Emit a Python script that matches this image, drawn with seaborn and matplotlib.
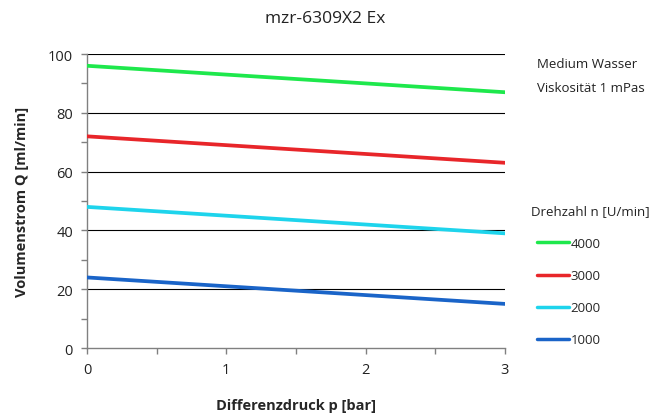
import matplotlib
matplotlib.use("Agg")
import matplotlib.pyplot as plt
import seaborn as sns
import pandas as pd
from matplotlib.ticker import MultipleLocator

sns.set_style("white")
plt.rcParams['font.family'] = ['Open Sans', 'DejaVu Sans']

pressure = [0, 3]
speeds = ["4000", "3000", "2000", "1000"]
flow_4000 = [96, 87]
flow_3000 = [72, 63]
flow_2000 = [48, 39]
flow_1000 = [24, 15]
colors = ["#1EE84C", "#E8262A", "#1ED4EC", "#1A64C8"]

series = {"4000": flow_4000, "3000": flow_3000, "2000": flow_2000, "1000": flow_1000}
rows = []
for s in speeds:
    for p, q in zip(pressure, series[s]):
        rows.append({"p": p, "Q": q, "n": s})
df = pd.DataFrame(rows)

W, H = 652, 414
fig = plt.figure(figsize=(6.52, 4.14), dpi=100)
ax = fig.add_axes([0.1334, 0.157, 0.7745 - 0.1334, 0.8671 - 0.157])

sns.lineplot(data=df, x="p", y="Q", hue="n", hue_order=speeds,
             palette=colors, linewidth=2.7, ax=ax, legend=True, zorder=3)

ax.set_xlim(0, 3)
ax.set_ylim(0, 100)
ax.xaxis.set_major_locator(MultipleLocator(1))
ax.xaxis.set_minor_locator(MultipleLocator(0.5))
ax.yaxis.set_major_locator(MultipleLocator(20))
ax.yaxis.set_minor_locator(MultipleLocator(10))
ax.grid(False)
for yv in range(20, 101, 20):
    ax.axhline(yv, color="black", linewidth=0.8, zorder=1)
for side in ["top", "right"]:
    ax.spines[side].set_visible(False)
for side in ["left", "bottom"]:
    ax.spines[side].set_color("#808080")
    ax.spines[side].set_linewidth(1.0)
ax.tick_params(which="both", direction="out", color="#808080", width=1.0,
               left=True, bottom=True, labelsize=10.5, labelcolor="#222222")
ax.tick_params(which="major", length=4)
ax.tick_params(which="minor", length=4)
ax.tick_params(axis="y", pad=6)
ax.tick_params(axis="x", pad=6)

ax.set_xlabel("Differenzdruck p [bar]", fontsize=10.5, fontweight="bold", labelpad=15)
ax.set_ylabel("Volumenstrom Q [ml/min]", fontsize=10.5, fontweight="bold", labelpad=14)

fig.text(0.498, 1 - 19 / H, "mzr-6309X2 Ex", ha="center", va="center", fontsize=12.5, color="#222222")
fig.text(537 / W, 1 - 65 / H, "Medium Wasser", ha="left", va="center", fontsize=9.5, color="#222222")
fig.text(537 / W, 1 - 88 / H, "Viskosität 1 mPas", ha="left", va="center", fontsize=9.5, color="#222222")
fig.text(531 / W, 1 - 212 / H, "Drehzahl n [U/min]", ha="left", va="center", fontsize=9.5, color="#222222")

leg = ax.legend(loc="upper left",
                bbox_to_anchor=(537 / W, 1 - 238 / H), bbox_transform=fig.transFigure,
                frameon=False, fontsize=9.5, borderpad=0, borderaxespad=0,
                handlelength=2.4, handletextpad=0.15, labelspacing=1.45)
for h in leg.get_lines():
    h.set_linewidth(2.5)

fig.savefig("out.png", dpi=100)
